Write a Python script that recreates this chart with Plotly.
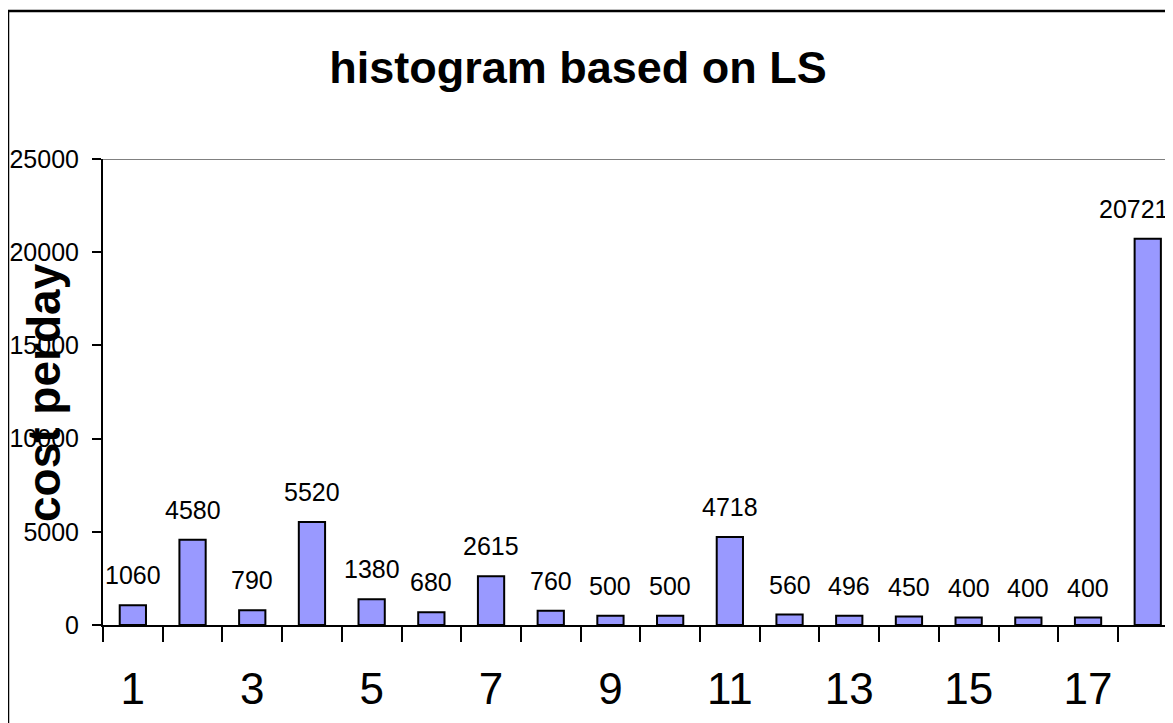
import plotly.graph_objects as go

categories = list(range(1, 19))
values = [1060, 4580, 790, 5520, 1380, 680, 2615, 760, 500, 500,
          4718, 560, 496, 450, 400, 400, 400, 20721]
x_tick_labels = [str(c) for c in categories if c % 2 == 1]
y_tick_vals = [0, 5000, 10000, 15000, 20000, 25000]
y_tick_text = [str(v) for v in y_tick_vals]

FONT = "Arial, Liberation Sans, sans-serif"
OFF = 8  # page body margin
W, H = 1173 - OFF, 723 - OFF
L, R, T, B = 103 - OFF, 0, 159 - OFF, 723 - 625
step = 59.7
plot_w = W - L - R
plot_h = H - T - B


def px_x(page_x):
    return (page_x - OFF - L) / plot_w


def px_y(page_y):
    return (625 - page_y) / plot_h


fig = go.Figure()
fig.add_trace(go.Bar(
    x=categories, y=values, width=0.44,
    marker=dict(color="#9999FF", line=dict(color="black", width=2)),
    hoverinfo="x+y",
))

for i, (c, v) in enumerate(zip(categories, values)):
    fig.add_annotation(
        x=c, y=v, text=str(v), showarrow=False,
        yanchor="middle", yshift=30,
        xshift=-14 if i == len(values) - 1 else 0,
        font=dict(family=FONT, size=25, color="black"),
    )

# y-axis title overlapping tick labels (Excel style)
fig.add_annotation(
    xref="paper", yref="paper", x=px_x(44), y=px_y(393),
    text="<b>cost perday</b>", textangle=-90, showarrow=False,
    xanchor="center", yanchor="middle",
    font=dict(family=FONT, size=46, color="black"),
)

# top plot-area border line (gray)
fig.add_shape(type="line", xref="paper", yref="y", x0=0, x1=1, y0=25000, y1=25000,
              line=dict(color="#808080", width=2))
# outer chart border
fig.add_shape(type="rect", xref="paper", yref="paper",
              x0=px_x(8), x1=1.2, y0=-0.6, y1=px_y(11),
              line=dict(color="black", width=2.5), fillcolor="rgba(0,0,0,0)", layer="above")

fig.update_layout(
    width=W, height=H,
    margin=dict(l=L, r=R, t=T, b=B),
    paper_bgcolor="white", plot_bgcolor="white",
    showlegend=False,
    title=dict(text="<b>histogram based on LS</b>", x=(578 - OFF) / W, y=1 - (67 - OFF) / H,
               xanchor="center", yanchor="middle", xref="container", yref="container",
               font=dict(family=FONT, size=45, color="black")),
)

fig.update_xaxes(
    range=[0.5, 0.5 + plot_w / step],
    tickvals=[c for c in categories if c % 2 == 1], ticktext=x_tick_labels,
    ticks="", showgrid=False, zeroline=False,
    showline=True, linecolor="black", linewidth=2,
    tickfont=dict(family=FONT, size=44, color="black"),
    ticklabelstandoff=24,
    minor=dict(tickvals=[c - 0.5 for c in categories] + [18.5], ticks="outside",
               ticklen=15, tickwidth=2, tickcolor="black", showgrid=False),
    automargin=False,
)
fig.update_yaxes(
    range=[0, 25000], tickvals=y_tick_vals, ticktext=y_tick_text,
    ticks="outside", ticklen=9, tickwidth=2, tickcolor="black",
    showgrid=False, zeroline=False,
    showline=True, linecolor="black", linewidth=2,
    tickfont=dict(family=FONT, size=25, color="black"),
    ticklabelstandoff=8,
    automargin=False,
)

fig.write_html("out.html")
